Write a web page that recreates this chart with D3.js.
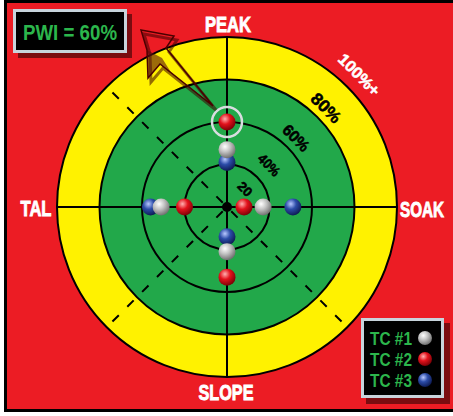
<!DOCTYPE html>
<html lang="en">
<head>
  <meta charset="UTF-8">
  <title>PWI target</title>
  <style>
    body { margin: 0; background: #fff; overflow: hidden; }
    svg { display: block; }
    .lbl { font-family: "Liberation Sans", Arial, sans-serif; font-weight: bold; }
  </style>
  <script src="https://d3js.org/d3.v7.min.js"></script>
</head>
<body>
  <svg id="chart" width="453" height="416"></svg>
  <script>
    // ---- data ----
    const axisNames = ["PEAK", "SOAK", "SLOPE", "TAL"];   // up, right, down, left
    const seriesNames = ["TC #1", "TC #2", "TC #3"];
    const tc1 = [47, 37, 41, 51];
    const tc2 = [60, 28, 53, 40];
    const tc3 = [41, 51, 34, 56];
    const ringValues = [40, 60, 80, 100];
    const ringLabels = ["20", "40%", "60%", "80%", "100%+"];
    const ringLabelAt = [32, 48, 66, 86, 108];
    const pwi = 60;

    const colRed = "#ec1c24", colYellow = "#fff200", colGreen = "#22a84a", colText = "#2cb64c";

    const svg = d3.select("#chart");
    const defs = svg.append("defs");

    // sphere gradients
    const ballCols = {
      "TC #1": ["#ffffff", "#c4c4c4", "#6e6e6e"],
      "TC #2": ["#ffb0b0", "#e3121c", "#7a0006"],
      "TC #3": ["#b8c8ff", "#2c4ca8", "#0d1a52"]
    };
    seriesNames.forEach((s, i) => {
      const g = defs.append("radialGradient").attr("id", "ball" + i)
        .attr("cx", "38%").attr("cy", "32%").attr("r", "70%");
      g.append("stop").attr("offset", "0%").attr("stop-color", ballCols[s][0]);
      g.append("stop").attr("offset", "45%").attr("stop-color", ballCols[s][1]);
      g.append("stop").attr("offset", "100%").attr("stop-color", ballCols[s][2]);
    });

    // frame
    svg.append("rect").attr("x", 5.5).attr("y", 1.5).attr("width", 500).attr("height", 409)
      .attr("fill", colRed).attr("stroke", "#000").attr("stroke-width", 3);

    const cx = 227, cy = 207;
    const r = d3.scaleLinear().domain([20, 100]).range([0, 170]);
    const target = svg.append("g").attr("transform", `translate(${cx},${cy})`);

    // bands
    target.append("circle").attr("r", r(100)).attr("fill", colYellow).attr("stroke", "#000").attr("stroke-width", 2);
    target.append("circle").attr("r", r(80)).attr("fill", colGreen).attr("stroke", "#000").attr("stroke-width", 2);
    target.selectAll("circle.ring").data(ringValues.filter(v => v < 80)).enter()
      .append("circle").attr("class", "ring").attr("r", d => r(d))
      .attr("fill", "none").attr("stroke", "#000").attr("stroke-width", 2);

    // dashed diagonals (NW, SW, SE)
    [225, 135, 45].forEach(a => {
      const t = a * Math.PI / 180;
      target.append("line")
        .attr("x1", 0).attr("y1", 0)
        .attr("x2", r(100) * Math.cos(t)).attr("y2", r(100) * Math.sin(t))
        .attr("stroke", "#000").attr("stroke-width", 2)
        .attr("stroke-dasharray", "9,12").attr("stroke-dashoffset", -6);
    });

    // cross axes
    target.append("line").attr("x1", -r(100)).attr("x2", r(100)).attr("y1", 0).attr("y2", 0)
      .attr("stroke", "#000").attr("stroke-width", 2);
    target.append("line").attr("y1", -r(100)).attr("y2", r(100)).attr("x1", 0).attr("x2", 0)
      .attr("stroke", "#000").attr("stroke-width", 2);
    target.append("circle").attr("r", 5).attr("fill", "#000");

    // ring labels along NE diagonal
    const labSize = [13, 14, 16, 17, 16];
    const labLen = [15, 25, 31, 35, 52];
    ringLabels.forEach((t, i) => {
      const d = r(ringLabelAt[i]) / Math.SQRT2;
      const last = i === ringLabels.length - 1;
      target.append("text").attr("class", "lbl")
        .attr("transform", `translate(${d},${-d}) rotate(45)`)
        .attr("x", -labLen[i] / 2).attr("dy", "0.35em")
        .attr("textLength", labLen[i]).attr("lengthAdjust", "spacingAndGlyphs")
        .attr("font-size", labSize[i])
        .attr("fill", last ? "#fff" : "#000")
        .attr("stroke", last ? "#fff" : "#000").attr("stroke-width", 0.5)
        .text(t);
    });

    // axis names
    const namePos = [[228, 32], [422, 217], [226, 400], [36, 216]];
    const nameLen = [46, 44, 55, 31];
    axisNames.forEach((n, i) => {
      svg.append("text").attr("class", "lbl")
        .attr("x", namePos[i][0] - nameLen[i] / 2).attr("y", namePos[i][1])
        .attr("textLength", nameLen[i]).attr("lengthAdjust", "spacingAndGlyphs")
        .attr("font-size", 22)
        .attr("fill", "#fff").attr("stroke", "#fff").attr("stroke-width", 0.9)
        .text(n);
    });

    // lightning bolt pointer
    const bolt = "M141,30 L174,36 L166,48 L213,106 L160,64 L148,78 L147,50 Z";
    svg.append("path").attr("d", bolt).attr("transform", "translate(3,4)")
      .attr("fill", "none").attr("stroke", "rgba(60,0,0,0.55)").attr("stroke-width", 3);
    svg.append("path").attr("d", "M147,50 L148,78 L160,64 L172,74 L162,58 Z")
      .attr("fill", "#5a1010").attr("opacity", 0.6);
    svg.append("path").attr("d", bolt)
      .attr("fill", "none").attr("stroke", "#4a0000").attr("stroke-width", 1.5);

    // balls: draw TC#3, TC#1, TC#2 so overlaps match
    const allSeries = [tc1, tc2, tc3];
    const angles = [-90, 0, 90, 180];
    [2, 0, 1].forEach(si => {
      allSeries[si].forEach((v, ai) => {
        const t = angles[ai] * Math.PI / 180;
        const x = r(v) * Math.cos(t), y = r(v) * Math.sin(t);
        if (si === 1 && ai === 0 && v === pwi) {
          target.append("circle").attr("cx", x).attr("cy", y).attr("r", 15)
            .attr("fill", "none").attr("stroke", "#d8dde0").attr("stroke-width", 2.5);
        }
        target.append("circle").attr("cx", x).attr("cy", y).attr("r", 8.5)
          .attr("fill", `url(#ball${si})`);
      });
    });

    // PWI box
    svg.append("rect").attr("x", 18).attr("y", 14).attr("width", 114).attr("height", 44).attr("fill", "#7a0c10");
    svg.append("rect").attr("x", 14.5).attr("y", 10.5).attr("width", 111).attr("height", 41)
      .attr("fill", "#000").attr("stroke", "#c8d4dc").attr("stroke-width", 3);
    svg.append("text").attr("class", "lbl").attr("x", 23).attr("y", 40)
      .attr("textLength", 94).attr("lengthAdjust", "spacingAndGlyphs")
      .attr("font-size", 22).attr("fill", colText)
      .text(`PWI = ${pwi}%`);

    // legend
    svg.append("rect").attr("x", 366).attr("y", 323).attr("width", 84).attr("height", 81).attr("fill", "#7a0c10");
    svg.append("rect").attr("x", 362.5).attr("y", 319.5).attr("width", 80).attr("height", 77)
      .attr("fill", "#000").attr("stroke", "#c8d4dc").attr("stroke-width", 3);
    const legY = d3.scalePoint().domain(seriesNames).range([338, 380]);
    seriesNames.forEach((s, i) => {
      svg.append("text").attr("class", "lbl").attr("x", 370).attr("y", legY(s) + 7)
        .attr("textLength", 42).attr("lengthAdjust", "spacingAndGlyphs")
        .attr("font-size", 18).attr("fill", colText).text(s);
      svg.append("circle").attr("cx", 425).attr("cy", legY(s)).attr("r", 7)
        .attr("fill", `url(#ball${i})`);
    });
  </script>
</body>
</html>
